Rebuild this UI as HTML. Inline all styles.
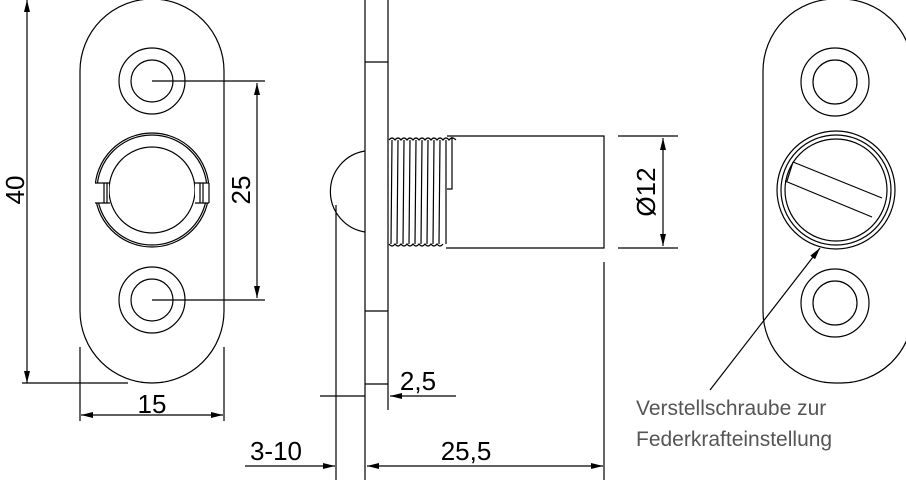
<!DOCTYPE html>
<html><head><style>
html,body{margin:0;padding:0;background:#fff;}
svg{display:block;}
text{font-family:"Liberation Sans",sans-serif;}
</style></head><body>
<svg width="906" height="480" viewBox="0 0 906 480" xmlns="http://www.w3.org/2000/svg">
<defs>
<marker id="a" viewBox="0 0 12 6" refX="12" refY="3" markerWidth="12" markerHeight="6" orient="auto-start-reverse" markerUnits="userSpaceOnUse">
<path d="M0,0 L12,3 L0,6 z" fill="#000"/></marker>
</defs>
<g fill="none" stroke="#000" stroke-width="1.2">
<!-- left plate -->
<rect x="80" y="-1" width="144" height="384" rx="72" ry="72"/>
<circle cx="152" cy="81" r="33"/><circle cx="152" cy="81" r="21"/>
<circle cx="152" cy="300" r="33"/><circle cx="152" cy="300" r="21"/>
<circle cx="152" cy="190" r="57"/><circle cx="152" cy="190" r="55"/>
<circle cx="152" cy="190" r="43"/>
<rect x="92" y="183" width="17" height="20" fill="#fff" stroke="none"/>
<rect x="195" y="183" width="17" height="20" fill="#fff" stroke="none"/>
<path d="M95,183 L110,183 M95,203 L110,203 M104,183 V203 M107,183 V203 M209,183 L195,183 M209,203 L195,203 M200,183 V203 M203,183 V203 M209,183 V203"/>
<!-- dims left -->
<line x1="27" y1="0" x2="27" y2="383" marker-start="url(#a)" marker-end="url(#a)"/>
<line x1="22" y1="383" x2="128" y2="383"/>
<line x1="152" y1="81" x2="265" y2="81"/><line x1="152" y1="300" x2="265" y2="300"/>
<line x1="257" y1="83" x2="257" y2="298" marker-start="url(#a)" marker-end="url(#a)"/>
<line x1="80" y1="347" x2="80" y2="421"/><line x1="224" y1="347" x2="224" y2="421"/>
<line x1="81" y1="415" x2="223" y2="415" marker-start="url(#a)" marker-end="url(#a)"/>
<!-- middle side view -->
<line x1="365" y1="0" x2="365" y2="480"/>
<line x1="388" y1="0" x2="388" y2="410"/>
<line x1="365" y1="62" x2="388" y2="62"/><line x1="365" y1="311" x2="388" y2="311"/><line x1="365" y1="384" x2="388" y2="384"/>
<path d="M365,151 A41,41 0 0 0 365,232"/>
<line x1="336" y1="205" x2="336" y2="480"/>
<path d="M389,140 q3,-4 6,0 q3,-4 6,0 q3,-4 6,0 q3,-4 6,0 q3,-4 6,0 q3,-4 6,0 q3,-4 6,0 q3,-4 6,0 q3,-4 6,0 q3,-4 6,0 q3,-4 7,0"/>
<path d="M389,244 q3,4 6,0 q3,4 6,0 q3,4 6,0 q3,4 6,0 q3,4 6,0 q3,4 6,0 q3,4 6,0 q3,4 6,0 q3,4 6,0"/>
<path d="M392,140 L391,244 M398,140 L397,244 M404,140 L403,244 M410,140 L409,244 M416,140 L415,244 M422,140 L421,244 M428,140 L427,244 M434,140 L433,244 M440,140 L439,244 M446,140 L446,244"/>
<path d="M452,137 V189 H447 M447,136 H604 V248 H446"/>
<line x1="604" y1="262" x2="604" y2="480"/>
<line x1="618" y1="136" x2="678" y2="136"/><line x1="618" y1="248" x2="678" y2="248"/>
<line x1="663" y1="138" x2="663" y2="246" marker-start="url(#a)" marker-end="url(#a)"/>
<line x1="320" y1="396" x2="365" y2="396"/>
<line x1="456" y1="396" x2="390" y2="396" marker-end="url(#a)"/>
<line x1="367" y1="466" x2="603" y2="466" marker-start="url(#a)" marker-end="url(#a)"/>
<line x1="245" y1="466" x2="335" y2="466" marker-end="url(#a)"/>
<!-- right plate -->
<rect x="763" y="-1" width="150" height="384" rx="72" ry="72"/>
<circle cx="835" cy="82" r="34"/><circle cx="835" cy="82" r="22"/>
<circle cx="835" cy="303" r="34"/><circle cx="835" cy="303" r="22"/>
<circle cx="836" cy="190" r="59"/><circle cx="836" cy="190" r="55"/><circle cx="836" cy="190" r="51"/>
<path d="M793,162 L882,198 M785,181 L872,217 M793,162 L787,181"/>
<line x1="710" y1="390" x2="820" y2="248" marker-end="url(#a)"/>
</g>
<g font-size="26" fill="#000">
<text x="152" y="413" text-anchor="middle">15</text>
<text transform="translate(24,190) rotate(-90)" text-anchor="middle">40</text>
<text transform="translate(250,190) rotate(-90)" text-anchor="middle">25</text>
<text transform="translate(655,192) rotate(-90)" text-anchor="middle">Ø12</text>
<text x="418" y="390" text-anchor="middle">2,5</text>
<text x="466" y="460" text-anchor="middle">25,5</text>
<text x="276" y="460" text-anchor="middle">3-10</text>
</g>
<g font-size="21" fill="#555">
<text x="636" y="415">Verstellschraube zur</text>
<text x="636" y="446">Federkrafteinstellung</text>
</g>
</svg>
</body></html>
